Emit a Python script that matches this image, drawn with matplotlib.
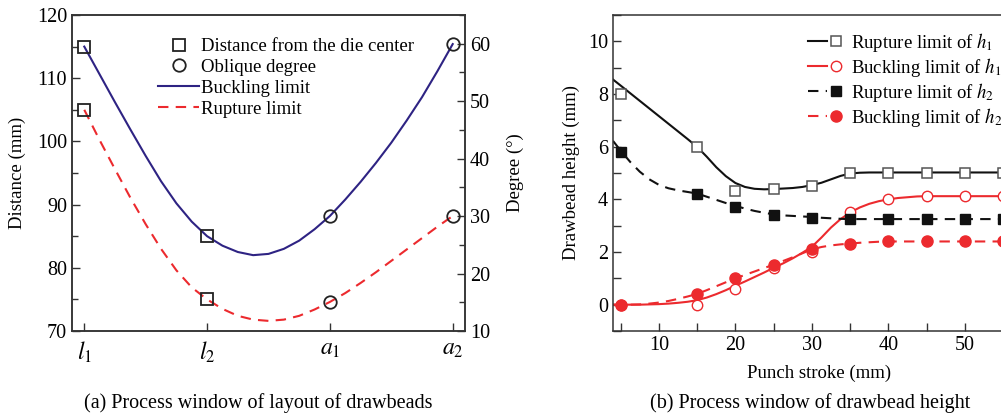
import matplotlib
matplotlib.use('Agg')
import matplotlib.pyplot as plt
from matplotlib.legend_handler import HandlerTuple
from matplotlib.ticker import MultipleLocator

plt.rcParams['font.family'] = ['Liberation Serif', 'DejaVu Serif']
plt.rcParams['mathtext.fontset'] = 'stix'
plt.rcParams['axes.linewidth'] = 1.1
plt.rcParams['xtick.direction'] = 'in'
plt.rcParams['ytick.direction'] = 'in'

# (a) layout of drawbeads
layout_labels = [r'$l_1$', r'$l_2$', r'$a_1$', r'$a_2$']
layout_pos = [1, 2, 3, 4]
dist_pos = [1, 1, 2, 2]
dist_vals = [115, 105, 85, 75]
degree_pos = [3, 3, 4, 4]
degree_vals = [30, 15, 60, 30]

# limit curves, in distance units of the left axis
curve_pos = [1.0, 1.125, 1.25, 1.375, 1.5, 1.625, 1.75, 1.875, 2.0, 2.125, 2.25, 2.375,
             2.5, 2.625, 2.75, 2.875, 3.0, 3.125, 3.25, 3.375, 3.5, 3.625, 3.75, 3.875, 4.0]
buckling_curve = [115.0, 110.6, 106.2, 101.9, 97.7, 93.7, 90.2, 87.3, 85.0, 83.5, 82.5, 82.0,
                  82.2, 83.0, 84.3, 86.1, 88.2, 90.8, 93.6, 96.6, 99.8, 103.3, 107.0, 111.1, 115.4]
rupture_curve = [105.0, 100.2, 95.6, 91.1, 86.9, 83.0, 79.6, 76.9, 75.0, 73.5, 72.4, 71.8,
                 71.6, 71.8, 72.4, 73.4, 74.6, 76.0, 77.6, 79.3, 81.1, 82.9, 84.7, 86.5, 88.2]

# (b) drawbead height vs punch stroke
stroke = [5, 15, 20, 25, 30, 35, 40, 45, 50, 55]
rupture_h1 = [8.0, 6.0, 4.3, 4.4, 4.5, 5.0, 5.0, 5.0, 5.0, 5.0]
buckling_h1 = [0.0, 0.0, 0.6, 1.4, 2.0, 3.5, 4.0, 4.12, 4.12, 4.12]
rupture_h2 = [5.8, 4.2, 3.7, 3.4, 3.3, 3.25, 3.25, 3.25, 3.25, 3.25]
buckling_h2 = [0.0, 0.4, 1.0, 1.5, 2.1, 2.3, 2.4, 2.4, 2.4, 2.4]

stroke_fit = [4, 5, 6.25, 7.5, 8.75, 10, 11.25, 12.5, 13.75, 15, 16.25, 17.5, 18.75,
              20, 21.25, 22.5, 23.75, 25, 26.25, 27.5, 28.75, 30, 31.25, 32.5, 33.75,
              35, 36.25, 37.5, 38.75, 40, 41.25, 42.5, 43.75, 45, 50, 55, 58]
rupture_h1_fit = [8.55, 8.32, 8.03, 7.74, 7.45, 7.16, 6.87, 6.58, 6.29, 5.99, 5.62, 5.22,
                  4.88, 4.62, 4.47, 4.40, 4.38, 4.39, 4.41, 4.43, 4.47, 4.54, 4.63, 4.76,
                  4.89, 4.98, 5.01, 5.02, 5.02, 5.02, 5.02, 5.02, 5.02, 5.02, 5.02, 5.02, 5.02]
buckling_h1_fit = [0.0, 0.0, 0.0, 0.0, 0.01, 0.02, 0.04, 0.07, 0.11, 0.17, 0.27, 0.4,
                   0.55, 0.72, 0.88, 1.05, 1.22, 1.40, 1.57, 1.76, 1.97, 2.2, 2.55, 2.93,
                   3.25, 3.5, 3.69, 3.83, 3.93, 4.0, 4.05, 4.08, 4.11, 4.12, 4.12, 4.12, 4.12]
rupture_h2_fit = [6.22, 5.85, 5.42, 5.05, 4.76, 4.55, 4.42, 4.34, 4.28, 4.22, 4.10, 3.98,
                  3.86, 3.75, 3.65, 3.56, 3.49, 3.43, 3.39, 3.37, 3.35, 3.33, 3.30, 3.28,
                  3.26, 3.25, 3.25, 3.25, 3.25, 3.25, 3.25, 3.25, 3.25, 3.25, 3.25, 3.25, 3.25]
buckling_h2_fit = [0.0, 0.0, 0.0, 0.01, 0.04, 0.08, 0.14, 0.22, 0.31, 0.41, 0.55, 0.7,
                   0.85, 1.0, 1.13, 1.26, 1.39, 1.52, 1.66, 1.8, 1.95, 2.1, 2.19, 2.25,
                   2.29, 2.32, 2.35, 2.37, 2.39, 2.4, 2.4, 2.4, 2.4, 2.4, 2.4, 2.4, 2.4]

navy = '#2e2383'
red = '#ec2a2e'
spine = '#333333'
W, H = 1001, 420

fig = plt.figure(figsize=(W / 100, H / 100), dpi=100)

# ---- panel (a)
ax1 = fig.add_axes([72 / W, 1 - 331 / H, 393 / W, 316 / H])
ax2 = ax1.twinx()

l_buck, = ax1.plot(curve_pos, buckling_curve, color=navy, lw=1.5, label='Buckling limit')
l_rup, = ax1.plot(curve_pos, rupture_curve, color=red, lw=1.5, dashes=(5, 3.5),
                  label='Rupture limit')
sq, = ax1.plot(dist_pos, dist_vals, ls='none', marker='s', ms=9, mfc='none',
               mec='#222222', mew=1.3, label='Distance from the die center')
ci, = ax2.plot(degree_pos, degree_vals, ls='none', marker='o', ms=9, mfc='none',
               mec='#222222', mew=1.3, label='Oblique degree')

ax1.set_xlim(0.9, 4.1)
ax1.set_ylim(70, 120)
ax2.set_ylim(10, 65)
ax1.set_xticks(layout_pos)
ax1.set_xticklabels(layout_labels)
ax1.yaxis.set_major_locator(MultipleLocator(10))
ax1.yaxis.set_minor_locator(MultipleLocator(5))
ax2.yaxis.set_major_locator(MultipleLocator(10))
ax2.yaxis.set_minor_locator(MultipleLocator(5))
for a in (ax1, ax2):
    a.tick_params(which='major', length=6, width=1.0, labelsize=14.5, color=spine)
    a.tick_params(which='minor', length=4, width=1.0, color=spine)
    for s in a.spines.values():
        s.set_color(spine)
ax1.tick_params(axis='x', labelsize=17, pad=6)
ax1.set_ylabel('Distance (mm)', fontsize=13.5, labelpad=8)
ax2.set_ylabel('Degree (°)', fontsize=13.5, labelpad=12)

ax2.legend([sq, ci, l_buck, l_rup],
           ['Distance from the die center', 'Oblique degree', 'Buckling limit', 'Rupture limit'],
           loc='upper left', bbox_to_anchor=(158 / W, 1 - 38 / H),
           bbox_transform=fig.transFigure, frameon=False, fontsize=13.5,
           borderpad=0, borderaxespad=0, handlelength=2.2, handletextpad=0.1,
           labelspacing=0.2)

fig.text(258 / W, 1 - 403 / H, '(a) Process window of layout of drawbeads',
         ha='center', va='center', fontsize=14.5)

# ---- panel (b)
x_lo, x_hi = 4, 58
bx = fig.add_axes([613 / W, 1 - 331 / H, (x_hi - x_lo) * 7.65 / W, 316 / H])

r1_line, = bx.plot(stroke_fit, rupture_h1_fit, color='#111111', lw=1.5)
r1_mk, = bx.plot(stroke, rupture_h1, ls='none', marker='s', ms=6.5, mfc='white',
                 mec='#555555', mew=1.1)
b1_line, = bx.plot(stroke_fit, buckling_h1_fit, color=red, lw=1.5)
b1_mk, = bx.plot(stroke, buckling_h1, ls='none', marker='o', ms=7.5, mfc='white',
                 mec=red, mew=1.0)
r2_line, = bx.plot(stroke_fit, rupture_h2_fit, color='#111111', lw=1.5, dashes=(5, 3.5))
r2_mk, = bx.plot(stroke, rupture_h2, ls='none', marker='s', ms=6.5, mfc='#111111',
                 mec='#111111')
b2_line, = bx.plot(stroke_fit, buckling_h2_fit, color=red, lw=1.5, dashes=(5, 3.5))
b2_mk, = bx.plot(stroke, buckling_h2, ls='none', marker='o', ms=8, mfc=red, mec=red)

bx.set_xlim(x_lo, x_hi)
bx.set_ylim(-1, 11)
bx.xaxis.set_major_locator(MultipleLocator(10))
bx.xaxis.set_minor_locator(MultipleLocator(5))
bx.yaxis.set_major_locator(MultipleLocator(2))
bx.yaxis.set_minor_locator(MultipleLocator(1))
bx.tick_params(which='major', length=6, width=1.0, labelsize=14.5, color=spine)
bx.tick_params(which='minor', length=6, width=1.0, color=spine)
for s in bx.spines.values():
    s.set_color(spine)
bx.set_xlabel('Punch stroke (mm)', fontsize=13.5, labelpad=7)
bx.set_ylabel('Drawbead height (mm)', fontsize=13.5, labelpad=6)

bx.legend([(r1_line, r1_mk), (b1_line, b1_mk), (r2_line, r2_mk), (b2_line, b2_mk)],
          [r'Rupture limit of $h_1$', r'Buckling limit of $h_1$',
           r'Rupture limit of $h_2$', r'Buckling limit of $h_2$'],
          handler_map={tuple: HandlerTuple(ndivide=None)},
          loc='upper left', bbox_to_anchor=(808 / W, 1 - 31 / H),
          bbox_transform=fig.transFigure, frameon=False, fontsize=13.5,
          borderpad=0, borderaxespad=0, handlelength=2.0, handletextpad=0.3,
          labelspacing=0.1)

fig.text(810 / W, 1 - 403 / H, '(b) Process window of drawbead height',
         ha='center', va='center', fontsize=14.5)

fig.savefig('out.png', dpi=100)
